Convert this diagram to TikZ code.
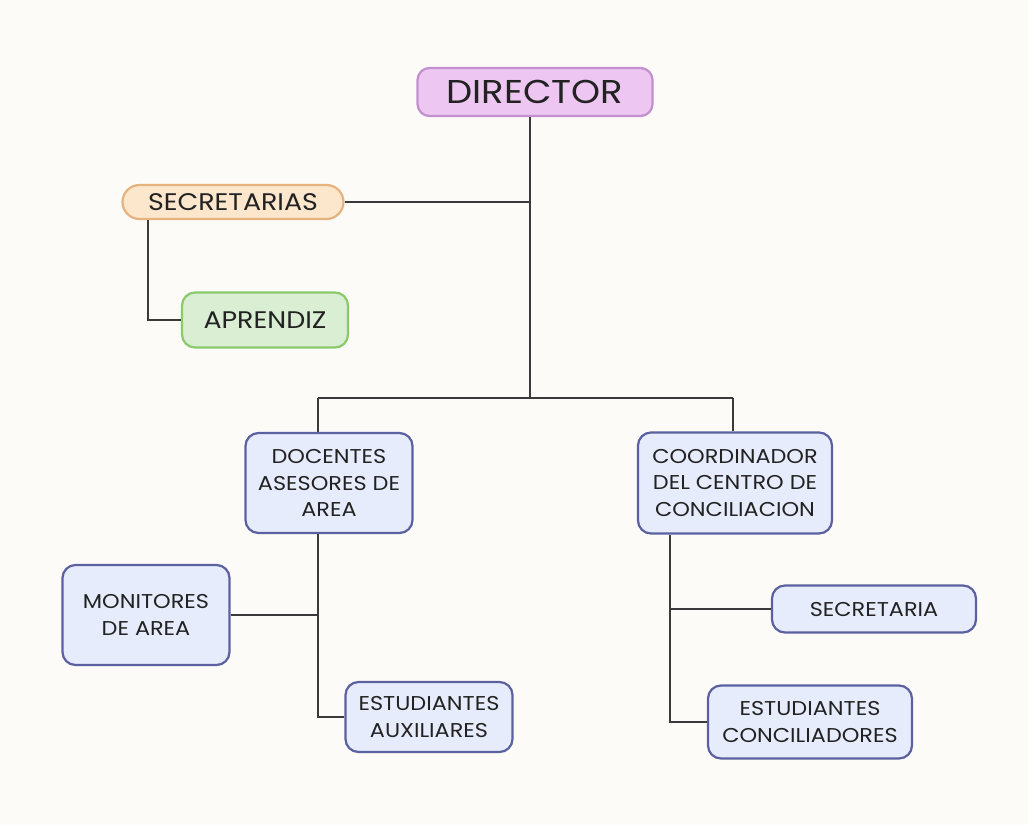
\documentclass[tikz,border=0pt]{standalone}
\usepackage{fontspec}
\setmainfont{Poppins}[FakeStretch=1.12]
\definecolor{bgc}{HTML}{FCFBF8}
\definecolor{txt}{HTML}{222222}
\definecolor{lnc}{HTML}{3A3A3A}
\definecolor{bluef}{HTML}{E6ECFB}
\definecolor{blued}{HTML}{5B60A0}
\definecolor{purf}{HTML}{EDC6F2}
\definecolor{purd}{HTML}{C38FCF}
\definecolor{oraf}{HTML}{FCE6CC}
\definecolor{orad}{HTML}{E5B47E}
\definecolor{gref}{HTML}{D9EED2}
\definecolor{gred}{HTML}{8CC96D}
\begin{document}
\begin{tikzpicture}[x=1pt,y=-1pt,
  box/.style={draw=blued,fill=bluef,line width=2.2pt,rounded corners=13pt,align=center,
    text=txt,font=\fontsize{20}{26.5}\selectfont,inner sep=0pt},
  conn/.style={draw=lnc,line width=1.8pt}]
\fill[bgc] (0,0) rectangle (1028,825);
\useasboundingbox (0,0) rectangle (1028,825);
% nodes
\node[draw=purd,fill=purf,line width=2.2pt,rounded corners=12pt,text=txt,
  font=\fontsize{33}{38}\selectfont,minimum width=235pt,minimum height=48pt,inner sep=0pt]
  (dir) at (535,92) {DIRECTOR};
\node[draw=orad,fill=oraf,line width=2.2pt,rounded corners=17pt,text=txt,
  font=\fontsize{24}{28}\selectfont,minimum width=221pt,minimum height=34pt,inner sep=0pt]
  (sec) at (233,202) {SECRETARIAS};
\node[draw=gred,fill=gref,line width=2.2pt,rounded corners=13pt,text=txt,
  font=\fontsize{24}{28}\selectfont,minimum width=166pt,minimum height=55pt,inner sep=0pt]
  (apr) at (265,320) {APRENDIZ};
\node[box,minimum width=167pt,minimum height=100pt] (doc) at (329,483) {DOCENTES\\ASESORES DE\\AREA};
\node[box,minimum width=194pt,minimum height=101pt] (coo) at (735,483) {COORDINADOR\\DEL CENTRO DE\\CONCILIACION};
\node[box,minimum width=167pt,minimum height=100pt] (mon) at (146,615) {MONITORES\\DE AREA};
\node[box,minimum width=167pt,minimum height=70pt] (aux) at (429,717) {ESTUDIANTES\\AUXILIARES};
\node[box,minimum width=204pt,minimum height=47pt] (sria) at (874,609) {SECRETARIA};
\node[box,minimum width=204pt,minimum height=73pt] (conc) at (810,722) {ESTUDIANTES\\CONCILIADORES};
% junctions
\coordinate (jmain) at (530,398);
\coordinate (jl) at (318,398);
\coordinate (jr) at (733,398);
\coordinate (jsa) at (148,320);
\coordinate (jaux) at (318,717);
\coordinate (jcc) at (670,722);
% connectors
\draw[conn] (dir.south -| jmain) -- (jmain);
\draw[conn] (sec.east) -- (sec.east -| jmain);
\draw[conn] (jl) -- (jr);
\draw[conn] (jl) -- (doc.north -| jl);
\draw[conn] (jr) -- (coo.north -| jr);
\draw[conn] (sec.south -| jsa) -- (jsa) -- (apr.west);
\draw[conn] (doc.south -| jaux) -- (jaux) -- (aux.west);
\draw[conn] (mon.east) -- (mon.east -| jaux);
\draw[conn] (coo.south -| jcc) -- (jcc) -- (conc.west);
\draw[conn] (sria.west -| jcc) -- (sria.west);
\end{tikzpicture}
\end{document}
